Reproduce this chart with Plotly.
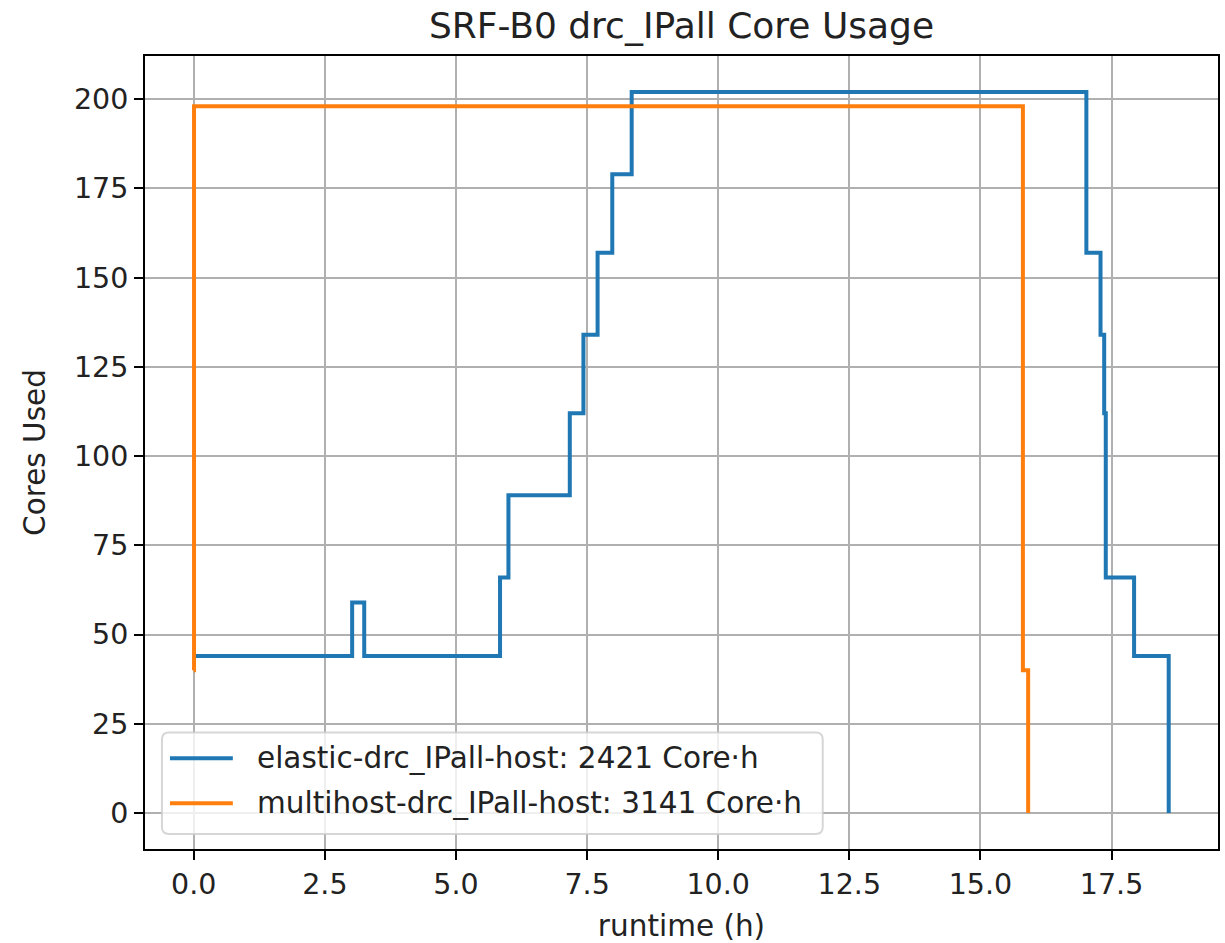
import plotly.graph_objects as go

# Data (step functions, value holds until next time point)
elastic_t = [0.0, 3.02, 3.25, 5.84, 6.00, 7.17, 7.43, 7.70, 7.98, 8.35, 17.02, 17.29, 17.36, 17.39, 17.93, 18.59]
elastic_cores = [44, 59, 44, 66, 89, 112, 134, 157, 179, 202, 157, 134, 112, 66, 44, 0]

multi_t = [0.0, 0.005, 15.81, 15.91]
multi_cores = [40, 198, 40, 0]

series_names = ["elastic-drc_IPall-host: 2421 Core·h", "multihost-drc_IPall-host: 3141 Core·h"]
series_colors = ["#1f77b4", "#ff7f0e"]

title = "SRF-B0 drc_IPall Core Usage"
x_label = "runtime (h)"
y_label = "Cores Used"

FONT = "DejaVu Sans"
TXT = "#222222"
W, H = 1225, 943
ML, MR, MT, MB = 145, 5, 56, 91
PW, PH = W - ML - MR, H - MT - MB


def px_x(x):
    return (x - ML) / PW


def px_y(y):
    return (H - MB - y) / PH


fig = go.Figure()
fig.add_trace(go.Scatter(x=elastic_t, y=elastic_cores, mode="lines", line_shape="hv",
                         line=dict(color=series_colors[0], width=4), name=series_names[0],
                         showlegend=False))
fig.add_trace(go.Scatter(x=multi_t, y=multi_cores, mode="lines", line_shape="hv",
                         line=dict(color=series_colors[1], width=4), name=series_names[1],
                         showlegend=False))

axis_common = dict(
    showline=True, linecolor="black", linewidth=2, mirror=True,
    ticks="outside", ticklen=9, tickwidth=2, tickcolor="black",
    showgrid=True, gridcolor="#b0b0b0", gridwidth=2,
    zeroline=False,
    tickfont=dict(family=FONT, size=28.5, color=TXT),
)

# legend drawn matplotlib-style (box, line samples, labels)
bx0, bx1, by0, by1 = 162, 824, 735, 837
r = 7
rx, ry = r / PW, r / PH
X0, X1, Y0, Y1 = px_x(bx0), px_x(bx1), px_y(by1), px_y(by0)
path = (f"M {X0+rx},{Y0} L {X1-rx},{Y0} Q {X1},{Y0} {X1},{Y0+ry} "
        f"L {X1},{Y1-ry} Q {X1},{Y1} {X1-rx},{Y1} L {X0+rx},{Y1} "
        f"Q {X0},{Y1} {X0},{Y1-ry} L {X0},{Y0+ry} Q {X0},{Y0} {X0+rx},{Y0} Z")
shapes = [dict(type="path", xref="paper", yref="paper", path=path,
               fillcolor="rgba(255,255,255,0.8)", line=dict(color="rgba(204,204,204,0.8)", width=2),
               layer="above")]
annotations = []
row_y = [761, 806]
for name, color, yy in zip(series_names, series_colors, row_y):
    shapes.append(dict(type="line", xref="paper", yref="paper",
                       x0=px_x(170), x1=px_x(233), y0=px_y(yy), y1=px_y(yy),
                       line=dict(color=color, width=4), layer="above"))
    annotations.append(dict(xref="paper", yref="paper", x=px_x(255), y=px_y(yy),
                            xanchor="left", yanchor="middle", text=name, showarrow=False,
                            font=dict(family=FONT, size=29.5, color=TXT)))

fig.update_layout(
    width=W, height=H,
    margin=dict(l=ML, r=MR, t=MT, b=MB),
    paper_bgcolor="white", plot_bgcolor="white",
    font=dict(family=FONT, color=TXT),
    title=dict(text=title, x=0.5, xanchor="center", xref="paper",
               y=1 - 25 / H, yref="container", yanchor="middle",
               font=dict(family=FONT, size=36, color=TXT)),
    xaxis=dict(range=[-0.93, 19.53], dtick=2.5, tick0=0, tickformat=".1f",
               title=dict(text=x_label, font=dict(family=FONT, size=29.5, color=TXT), standoff=16),
               **axis_common),
    yaxis=dict(range=[-10.1, 212.1], dtick=25, tick0=0,
               title=dict(text=y_label, font=dict(family=FONT, size=29.5, color=TXT), standoff=20),
               **axis_common),
    shapes=shapes,
    annotations=annotations,
    showlegend=False,
)

fig.write_html("out.html")
